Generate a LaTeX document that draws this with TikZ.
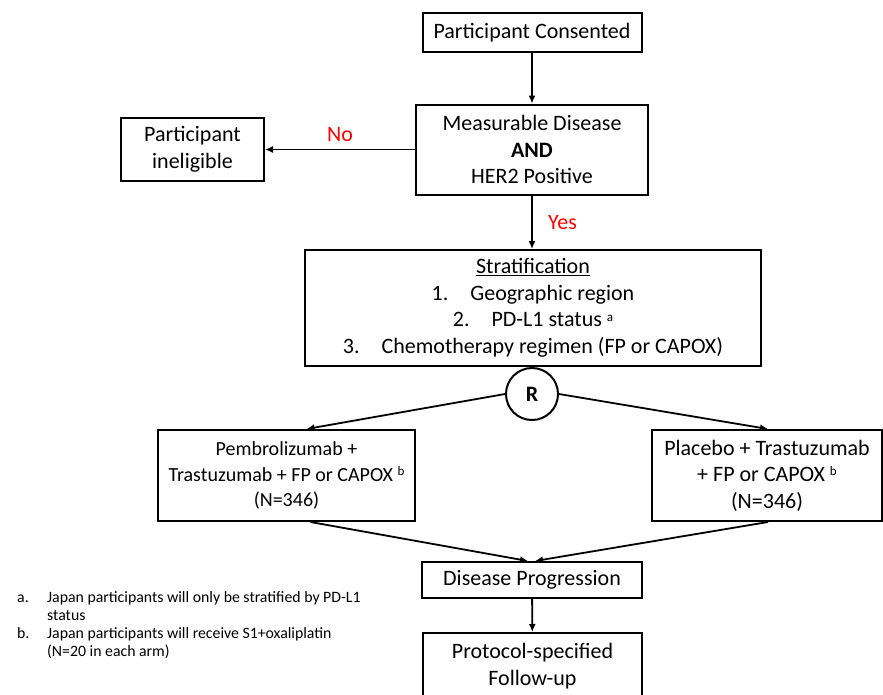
\documentclass[tikz,border=0pt]{standalone}
\usepackage{fontspec}
\setmainfont{Carlito}
\usepackage{tikz}
\usetikzlibrary{arrows.meta}
\newcommand{\fnmark}[1]{\raisebox{0.55ex}{\fontsize{13}{13}\selectfont #1}}
\tikzstyle{process} = [rectangle, draw=black, line width=2pt, align=center, inner sep=0pt, font=\fontsize{22}{26.5}\selectfont]
\tikzstyle{randnode} = [circle, draw=black, line width=2pt, minimum size=52, inner sep=0pt, font=\fontsize{22}{26}\selectfont\bfseries]
\tikzstyle{flow} = [->, line width=1.8pt]
\tikzstyle{answer} = [text=red, font=\fontsize{22}{26}\selectfont]
\tikzstyle{note} = [inner sep=0pt, font=\fontsize{15.8}{18}\selectfont]

\begin{document}
\begin{tikzpicture}[x=1pt, y=-1pt, >={Latex[length=8pt,width=7pt]}]
			\useasboundingbox (0,0) rectangle (883,694);
			\node[process, minimum width=219, minimum height=39] (consent) at (532,32.5) {Participant Consented};
			\node[process, minimum width=232, minimum height=90] (meas) at (532,149.5) {Measurable Disease\\\textbf{AND}\\HER2 Positive};
			\node[process, minimum width=143, minimum height=63] (inelig) at (192.5,149.5) {Participant\\ineligible};
			\node[process, minimum width=456, minimum height=116] (strat) at (533,308) {\underline{Stratification}\\1.\hspace{1em}Geographic region\\2.\hspace{1em}PD-L1 status \fnmark{a}\\3.\hspace{1em}Chemotherapy regimen (FP or CAPOX)};
			\node[randnode] (rand) at (532,394) {R};
			\node[process, minimum width=257, minimum height=91, font=\fontsize{20}{25.5}\selectfont] (pembro) at (286.5,475.5) {Pembrolizumab +\\Trastuzumab + FP or CAPOX \fnmark{b}\\(N=346)};
			\node[process, minimum width=230, minimum height=91] (placebo) at (767,475.5) {Placebo + Trastuzumab\\+ FP or CAPOX \fnmark{b}\\(N=346)};
			\node[process, minimum width=220, minimum height=36] (prog) at (532,580) {Disease Progression};
			\node[process, minimum width=219, minimum height=66] (follow) at (532.5,666) {Protocol-specified\\Follow-up};
			
			% footnotes
			\node[note, anchor=north west] (notes) at (17,590) {\begin{tabular}{@{}p{30pt}@{}l@{}}
			a. & Japan participants will only be stratified by PD-L1\\
			   & status\\
			b. & Japan participants will receive S1+oxaliplatin\\
			   & (N=20 in each arm)
			\end{tabular}};
			
			%arrow
			\draw [flow] (consent) -- (meas);
			\draw [flow] (meas.west) -- node[answer, above=4pt]{No} (inelig.east);
			\draw [flow] (meas.south) -- node[answer, right=12pt]{Yes} (meas.south |- strat.north);
			\draw [flow] (rand.west) -- ([xshift=20pt]pembro.north);
			\draw [flow] (rand.east) -- ([xshift=1pt]placebo.north);
			\draw [flow] ([xshift=24pt]pembro.south) -- ([xshift=-4pt]prog.north);
			\draw [flow] ([xshift=1pt]placebo.south) -- ([xshift=3pt]prog.north);
			\draw [flow] (prog) -- (follow);
			
		\end{tikzpicture}
\end{document}
